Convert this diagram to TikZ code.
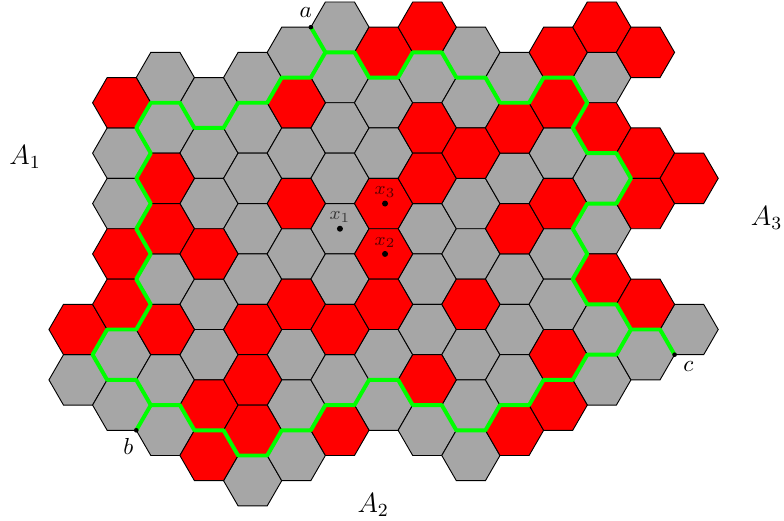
\documentclass[tikz,border=0pt]{standalone}
\usepackage{tikz}
\usepackage{amsmath}
\usetikzlibrary{calc, positioning}
\colorlet{hexgray}{gray!70}
\newcommand{\hexcell}[3]{\filldraw[fill=#3, draw=black, line width=.4pt] ({3*#1-2},#2) -- ({3*#1-1},{#2-1}) -- ({3*#1+1},{#2-1}) -- ({3*#1+2},#2) -- ({3*#1+1},{#2+1}) -- ({3*#1-1},{#2+1}) -- cycle;}

\begin{document}
\begin{tikzpicture}[x=0.2209cm, y=-0.3825cm, crossing/.style={green, line width=1.7pt, line join=round}, lab/.style={inner sep=0pt, opacity=.65}]
	\useasboundingbox (-5.364,-1.079) rectangle (48.52,19.595);
	\foreach \c/\ms in {0/{14}, 1/{5,7,13,15}, 2/{2,4,10,14,16}, 3/{3,5,7,11,13}, 4/{2,4,6,8,10,18}, 5/{1,5,9,13,15,17}, 6/{0,2,4,6,8,10,14}, 7/{3,5,13,15}, 8/{2,8,10,12,16}, 9/{1,3,7,9,13,15,17}, 10/{2,6,10,12,14}, 11/{5,9,11}, 12/{2,6,8,12,14}, 13/{13}, 14/{12}}
		\foreach \m in \ms {\hexcell{\c}{\m}{hexgray}}
	\foreach \c/\ms in {0/{12}, 1/{3,9,11}, 2/{6,8,12}, 3/{9,15,17}, 4/{12,14,16}, 5/{3,7,11}, 6/{12,16}, 7/{1,7,9,11}, 8/{0,4,6,14}, 9/{5,11}, 10/{4,8,16}, 11/{1,3,7,13,15}, 12/{0,4,10}, 13/{1,5,7,11}, 14/{6}}
		\foreach \m in \ms {\hexcell{\c}{\m}{red}}
	\coordinate (a) at (16,0);
	\coordinate (b) at (4,16);
	\coordinate (c) at (41,13);
	\coordinate (ja) at (17,1);
	\coordinate (jb) at (5,15);
	\coordinate (jc) at (38,12);
	\draw[crossing] (ja) -- (19,1) -- (20,2) -- (22,2) -- (23,1) -- (25,1) -- (26,2) -- (28,2) -- (29,3) -- (31,3) -- (32,2) -- (34,2) -- (35,3) -- (34,4) -- (35,5) -- (37,5) -- (38,6) -- (37,7) -- (35,7) -- (34,8) -- (35,9) -- (34,10) -- (35,11) -- (37,11) -- (jc)
		-- (37,13) -- (35,13) -- (34,14) -- (32,14) -- (31,15) -- (29,15) -- (28,16) -- (26,16) -- (25,15) -- (23,15) -- (22,14) -- (20,14) -- (19,15) -- (17,15) -- (16,16) -- (14,16) -- (13,17) -- (11,17) -- (10,16) -- (8,16) -- (7,15) -- (jb)
		-- (4,14) -- (2,14) -- (1,13) -- (2,12) -- (4,12) -- (5,11) -- (4,10) -- (5,9) -- (4,8) -- (5,7) -- (4,6) -- (5,5) -- (4,4) -- (5,3) -- (7,3) -- (8,4) -- (10,4) -- (11,3) -- (13,3) -- (14,2) -- (16,2) -- cycle;
	\draw[crossing] (a) -- (ja);
	\draw[crossing] (b) -- (jb);
	\draw[crossing] (jc) -- (40,12) -- (c);
	\fill (a) circle (1pt) (b) circle (1pt) (c) circle (1pt);
	\node (alab) at (15.65,-0.58) {$a$};
	\node (blab) at (3.45,16.65) {$b$};
	\node (clab) at (41.94,13.47) {$c$};
	\node (A1) at (-3.64,5.14) {\large $A_1$};
	\node (A2) at (20.29,18.96) {\large $A_2$};
	\node (A3) at (47.33,7.58) {\large $A_3$};
	\coordinate (x1) at (18,8);
	\coordinate (x3) at (21.1,7);
	\coordinate (x2) at (21.1,9);
	\fill (x1) circle (1.3pt) (x2) circle (1.3pt) (x3) circle (1.3pt);
	\node[lab, above=2.5pt of x1] (x1lab) {\footnotesize $x_1$};
	\node[lab, above=2.5pt of x3] (x3lab) {\footnotesize $x_3$};
	\node[lab, above=2.5pt of x2] (x2lab) {\footnotesize $x_2$};
\end{tikzpicture}
\end{document}
